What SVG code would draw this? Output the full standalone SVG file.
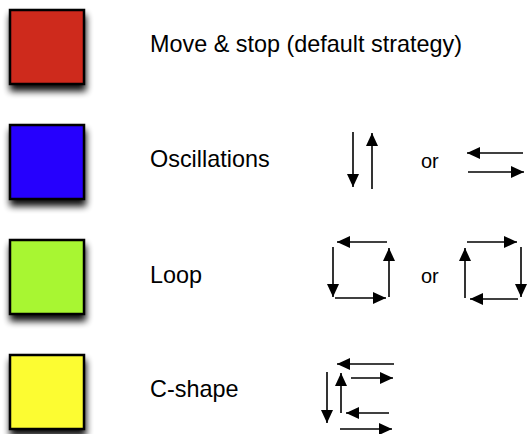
<svg xmlns="http://www.w3.org/2000/svg" width="527" height="434" viewBox="0 0 527 434">
  <defs>
    <filter id="shadow" x="-40%" y="-40%" width="180%" height="190%">
      <feGaussianBlur in="SourceAlpha" stdDeviation="3.5"/>
      <feOffset dx="1" dy="6" result="b"/>
      <feComponentTransfer in="b" result="s">
        <feFuncA type="linear" slope="0.95"/>
      </feComponentTransfer>
      <feMerge>
        <feMergeNode in="s"/>
        <feMergeNode in="SourceGraphic"/>
      </feMerge>
    </filter>
    <marker id="ah" markerUnits="userSpaceOnUse" markerWidth="14" markerHeight="12" refX="13" refY="6" orient="auto">
      <path d="M0,0 L13,6 L0,12 z" fill="#000"/>
    </marker>
  </defs>
  <style>
    .sq { stroke: #000; stroke-width: 2.5; filter: url(#shadow); }
    .lbl { font-family: "Liberation Sans", Arial, sans-serif; font-size: 23.4px; fill: #000; }
    .or { font-family: "Liberation Sans", Arial, sans-serif; font-size: 20px; fill: #000; }
    .arr { stroke: #000; stroke-width: 1.6; fill: none; marker-end: url(#ah); }
  </style>
  <rect width="527" height="434" fill="#fff"/>

  <g id="node-move-stop">
    <rect class="sq" x="10" y="10" width="74" height="74" fill="#ce2a1d"/>
    <text class="lbl" x="150" y="52">Move &amp; stop (default strategy)</text>
  </g>
  <g id="node-oscillations">
    <rect class="sq" x="10" y="125" width="74" height="74" fill="#2600fd"/>
    <text class="lbl" x="150" y="167">Oscillations</text>
    <text class="or" x="421" y="168">or</text>
  </g>
  <g id="node-loop">
    <rect class="sq" x="10" y="240" width="74" height="74" fill="#a8f631"/>
    <text class="lbl" x="150" y="283">Loop</text>
    <text class="or" x="421" y="283">or</text>
  </g>
  <g id="node-c-shape">
    <rect class="sq" x="10" y="355" width="74" height="74" fill="#fcfc32"/>
    <text class="lbl" x="150" y="397">C-shape</text>
  </g>

  <g id="connectors">
    <path class="arr" d="M353,132 L353,187"/>
    <path class="arr" d="M372,189 L372,133"/>
    <path class="arr" d="M523,153 L467,153"/>
    <path class="arr" d="M468,172 L524,172"/>

    <path class="arr" d="M387,242 L337,242"/>
    <path class="arr" d="M333,247 L333,297"/>
    <path class="arr" d="M335,298 L386,298"/>
    <path class="arr" d="M389,297 L389,248"/>

    <path class="arr" d="M465,298 L465,248"/>
    <path class="arr" d="M467,242 L517,242"/>
    <path class="arr" d="M521,247 L521,297"/>
    <path class="arr" d="M518,299 L470,299"/>

    <path class="arr" d="M394,364 L337,364"/>
    <path class="arr" d="M351,378 L393,378"/>
    <path class="arr" d="M327,372 L327,423"/>
    <path class="arr" d="M341,413 L341,373"/>
    <path class="arr" d="M389,413 L346,413"/>
    <path class="arr" d="M340,429 L392,429"/>
  </g>
</svg>
